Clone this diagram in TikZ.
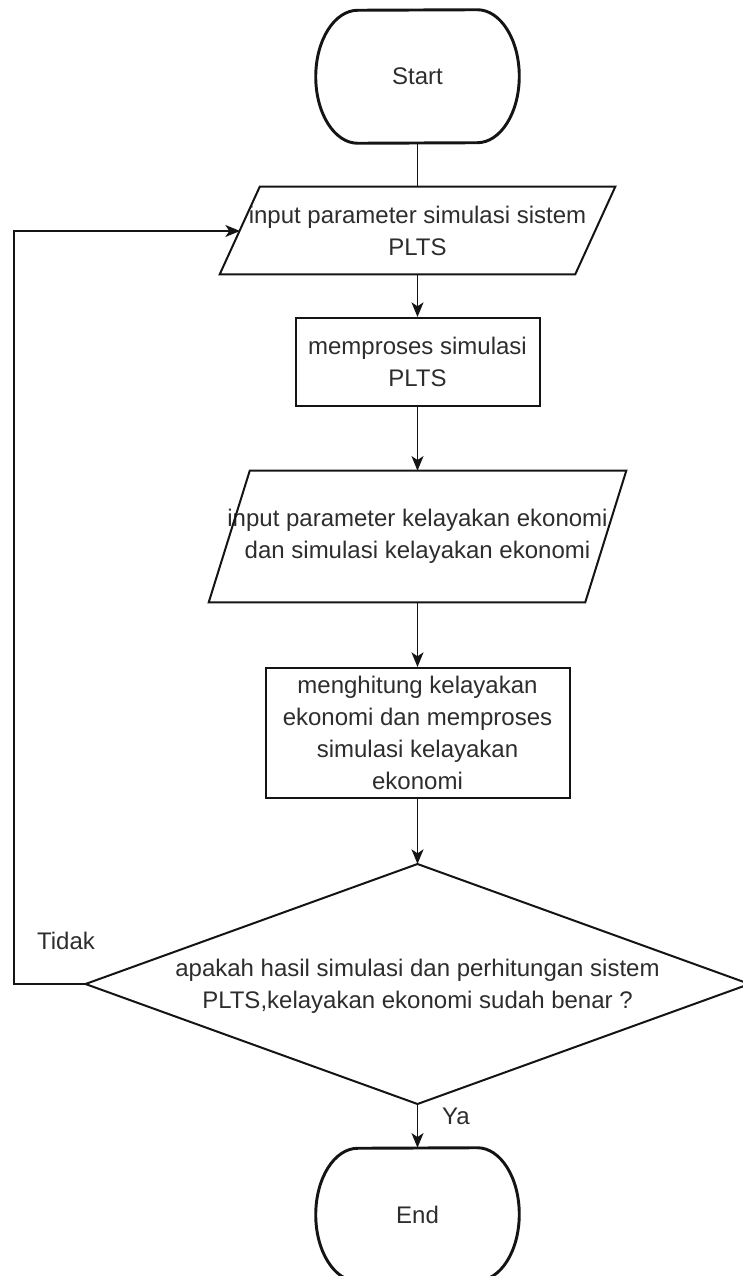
\documentclass[tikz,border=0pt]{standalone}
\usepackage{fontspec}
\setmainfont{Liberation Sans}
\usetikzlibrary{arrows.meta,calc}

\definecolor{inkline}{RGB}{20,20,20}
\definecolor{inktext}{RGB}{45,45,45}

\tikzset{
  % one drawing unit = one pixel at 96 dpi
  every node/.style={font=\fontsize{18pt}{24pt}\selectfont, text=inktext, align=center, inner sep=0pt},
  shapeline/.style={draw=inkline, line width=1.5pt, line join=miter},
  termline/.style={draw=inkline, line width=2.2pt},
  flow/.style={draw=inkline, line width=1.2pt, -{Stealth[length=11pt,width=9pt,inset=3pt]}},
  plainflow/.style={draw=inkline, line width=1.2pt},
  lbl/.style={font=\fontsize{18pt}{24pt}\selectfont}
}

\begin{document}
\begin{tikzpicture}[x=0.75pt,y=-0.75pt]
\useasboundingbox (0,0) rectangle (742,1276);

% ---- Start terminator ----
\node[minimum width=152.25pt, minimum height=99.75pt] (st) at (417.5,76.5) {Start};
\draw[termline] ([xshift=-31.5pt]st.north east)
  arc[start angle=90,end angle=-90,x radius=31.5pt,y radius=49.875pt]
  -- ([xshift=31.5pt]st.south west)
  arc[start angle=270,end angle=90,x radius=31.5pt,y radius=49.875pt] -- cycle;

% ---- input parameter simulasi ----
\node[minimum width=296.25pt, minimum height=65.25pt] (in1) at (417.5,230.5)
  {input parameter simulasi sistem\\PLTS};
\draw[shapeline] ([xshift=30pt]in1.north west) -- (in1.north east)
  -- ([xshift=-30pt]in1.south east) -- (in1.south west) -- cycle;
\coordinate (in1L) at (240,231);

% ---- memproses simulasi ----
\node[shapeline, minimum width=183pt, minimum height=66pt] (pr1) at (417.5,362)
  {memproses simulasi\\PLTS};

% ---- input parameter kelayakan ----
\node[minimum width=312.75pt, minimum height=98.25pt] (in2) at (417.5,536.5)
  {input parameter kelayakan ekonomi\\dan simulasi kelayakan ekonomi};
\draw[shapeline] ([xshift=30.75pt]in2.north west) -- (in2.north east)
  -- ([xshift=-30.75pt]in2.south east) -- (in2.south west) -- cycle;

% ---- menghitung kelayakan ----
\node[shapeline, minimum width=228pt, minimum height=97.5pt] (pr2) at (417.5,733)
  {menghitung kelayakan\\ekonomi dan memproses\\simulasi kelayakan\\ekonomi};

% ---- decision ----
\coordinate (decT) at (417.5,864);
\coordinate (decB) at (417.5,1104);
\coordinate (decL) at (85.5,984);
\coordinate (decR) at (749.5,984);
\draw[shapeline] (decT) -- (decR) -- (decB) -- (decL) -- cycle;
\node (dec) at (417.5,986)
  {apakah hasil simulasi dan perhitungan sistem\\PLTS,kelayakan ekonomi sudah benar ?};

% ---- End terminator ----
\node[minimum width=152.25pt, minimum height=99.75pt] (en) at (417.5,1214.5) {End};
\draw[termline] ([xshift=-31.5pt]en.north east)
  arc[start angle=90,end angle=-90,x radius=31.5pt,y radius=49.875pt]
  -- ([xshift=31.5pt]en.south west)
  arc[start angle=270,end angle=90,x radius=31.5pt,y radius=49.875pt] -- cycle;

% ---- connectors ----
\draw[plainflow] (st.south) -- (in1.north);
\draw[flow] (in1.south) -- (pr1.north);
\draw[flow] (pr1.south) -- (in2.north);
\draw[flow] (in2.south) -- (pr2.north);
\draw[flow] (pr2.south) -- (decT);
\draw[flow] (decB) -- (en.north);
\coordinate (loopB) at (14,984);
\draw[flow] (decL) -- (loopB) |- (in1L);

% ---- branch labels ----
\node[lbl] (tidak) at (66,941) {Tidak};
\node[lbl] (ya) at (456,1116) {Ya};
\end{tikzpicture}
\end{document}
